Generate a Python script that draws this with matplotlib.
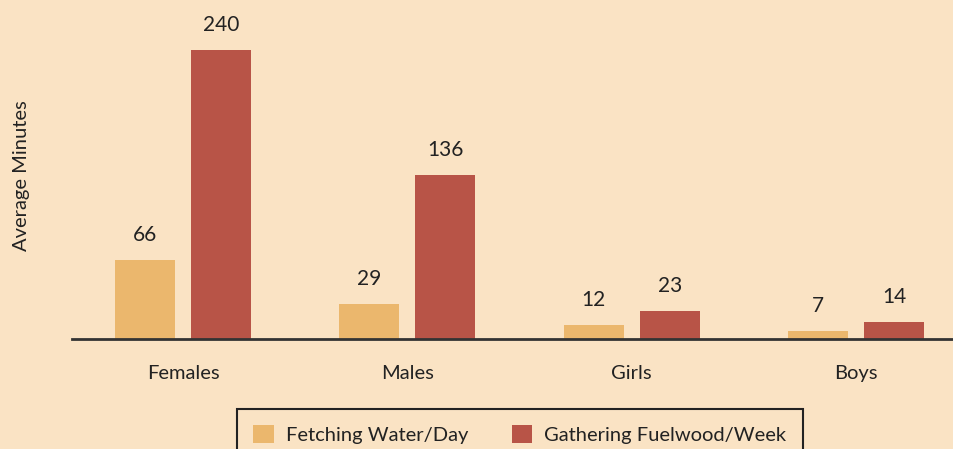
import matplotlib
matplotlib.use("Agg")
import matplotlib.pyplot as plt
import numpy as np

categories = ["Females", "Males", "Girls", "Boys"]
water = [66, 29, 12, 7]
fuelwood = [240, 136, 23, 14]
series_names = ["Fetching Water/Day", "Gathering Fuelwood/Week"]

bg = "#FAE3C4"
c_water = "#EBB76D"
c_fuel = "#B85447"

plt.rcParams['font.family'] = ['Lato', 'DejaVu Sans']

W, H = 954, 449
fig = plt.figure(figsize=(W/100, H/100), dpi=100, facecolor=bg)
ax = fig.add_axes([72/W, 110/H, (W-72)/W, 339/H])
ax.set_facecolor(bg)

x = np.arange(len(categories))
spacing = 224.33
bw = 60/spacing
off = 38/spacing
b1 = ax.bar(x - off, water, bw, color=c_water, label=series_names[0], zorder=2)
b2 = ax.bar(x + off, fuelwood, bw, color=c_fuel, label=series_names[1], zorder=2)

for bars, vals in ((b1, water), (b2, fuelwood)):
    for r, v in zip(bars, vals):
        ax.annotate(str(v), (r.get_x() + r.get_width()/2, r.get_height()),
                    xytext=(0, 15), textcoords='offset pixels',
                    ha='center', va='bottom', fontsize=15, color='#222222')

ax.set_xlim((72-183)/spacing, (954-183)/spacing)
ax.set_ylim(0, 339/1.204)
for s in ax.spines.values():
    s.set_visible(False)
ax.axhline(0, color='#333333', lw=2, zorder=3, clip_on=False)
ax.set_yticks([])
ax.set_xticks(x)
ax.set_xticklabels(categories, fontsize=14.5, color='#222222')
ax.tick_params(axis='x', length=0, pad=19)

fig.text(22/W, 1-176/H, "Average Minutes", rotation=90, ha='center', va='center',
         fontsize=14.5, color='#222222')

leg = fig.legend(handles=[b1, b2], loc='upper center', ncol=2,
                 bbox_to_anchor=(520/W, 1-409/H), fontsize=14.5,
                 frameon=True, fancybox=False, edgecolor='#222222',
                 facecolor=bg, framealpha=1, handlelength=1.0, handleheight=1.0,
                 columnspacing=2.2, handletextpad=0.6, borderpad=0.8,
                 borderaxespad=0)
leg.get_frame().set_linewidth(1.5)
for t in leg.get_texts():
    t.set_color('#222222')

fig.savefig("out.png", dpi=100, facecolor=bg)
